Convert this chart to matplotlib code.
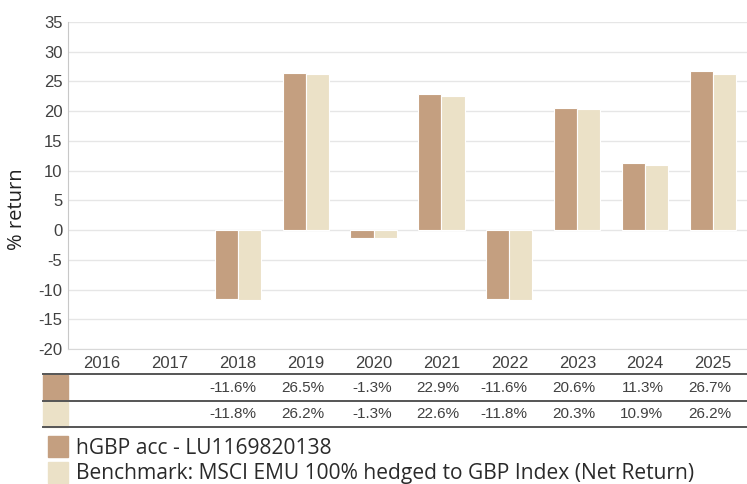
import numpy as np
import matplotlib.pyplot as plt
from matplotlib.patches import Rectangle
from matplotlib.lines import Line2D
from matplotlib.transforms import blended_transform_factory

plt.rcParams['axes.unicode_minus'] = False

years = ['2016', '2017', '2018', '2019', '2020', '2021', '2022', '2023', '2024', '2025']
fund = [np.nan, np.nan, -11.6, 26.5, -1.3, 22.9, -11.6, 20.6, 11.3, 26.7]
bench = [np.nan, np.nan, -11.8, 26.2, -1.3, 22.6, -11.8, 20.3, 10.9, 26.2]
fund_name = 'hGBP acc - LU1169820138'
bench_name = 'Benchmark: MSCI EMU 100% hedged to GBP Index (Net Return)'

c_fund = '#c49f80'
c_bench = '#ebe1c7'

W, H = 747, 484
fig = plt.figure(figsize=(W / 100, H / 100), dpi=100)
ax = fig.add_axes([68 / W, 1 - 349 / H, 679 / W, 327 / H])

x = np.arange(len(years))
bw = 0.34
ax.bar(x - bw / 2, fund, bw, color=c_fund, edgecolor='white', linewidth=0.8, zorder=3)
ax.bar(x + bw / 2, bench, bw, color=c_bench, edgecolor='white', linewidth=0.8, zorder=3)

ax.set_xlim(-0.5, len(years) - 0.5)
ax.set_ylim(-20, 35)
ax.set_yticks(np.arange(-20, 36, 5))
ax.grid(axis='y', color='#e6e6e6', linewidth=1, zorder=0)
ax.set_axisbelow(True)
for s in ['top', 'right']:
    ax.spines[s].set_visible(False)
ax.spines['left'].set_color('#c8c8c8')
ax.spines['bottom'].set_color('#d8d8d8')
ax.tick_params(length=0, labelsize=12, labelcolor='#404040')
ax.tick_params(axis='y', pad=4)
ax.tick_params(axis='x', pad=5)
ax.set_xticks(x)
ax.set_xticklabels(years, fontfamily='Liberation Sans')
for lab in ax.get_yticklabels():
    lab.set_fontfamily('Liberation Sans')

def fy(py):
    return 1 - py / H

fig.text(17 / W, fy(209), '% return', rotation=90, ha='center', va='center',
         fontsize=14.5, fontfamily='Open Sans', color='#222222')

# table under the axis
for py in [374, 401, 427]:
    fig.add_artist(Line2D([43 / W, 1], [fy(py), fy(py)], color='#555555', linewidth=1.4))
fig.add_artist(Rectangle((43 / W, fy(400)), 25 / W, 25 / H, color=c_fund, transform=fig.transFigure))
fig.add_artist(Rectangle((43 / W, fy(427)), 25 / W, 25 / H, color=c_bench, transform=fig.transFigure))

tr = blended_transform_factory(ax.transData, fig.transFigure)
for row, vals in [(388, fund), (414, bench)]:
    for i, v in enumerate(vals):
        if np.isnan(v):
            continue
        fig.text(i + 0.27, fy(row), f'{v:.1f}%', transform=tr, ha='right', va='center',
                 fontsize=11, fontfamily='Liberation Sans', color='#404040')

# legend
for top, col, name in [(436, c_fund, fund_name), (462, c_bench, bench_name)]:
    fig.add_artist(Rectangle((48 / W, fy(top + 21)), 20 / W, 21 / H, color=col, transform=fig.transFigure))
    fig.text(76 / W, fy(top + 12), name, ha='left', va='center', fontsize=15.1,
             fontfamily='Open Sans', color='#2a2a2a')

fig.savefig('out.png', dpi=100)
